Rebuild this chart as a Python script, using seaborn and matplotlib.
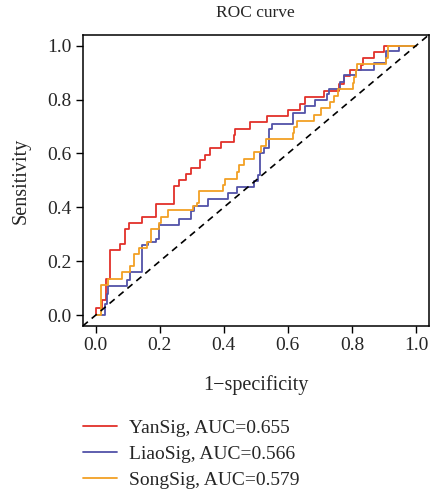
import numpy as np
import pandas as pd
import matplotlib
matplotlib.use('Agg')
import matplotlib.pyplot as plt
import seaborn as sns

# ROC step points (1-specificity, sensitivity)
yan_fpr = [0.0, 0.0, 0.021, 0.033, 0.046, 0.076, 0.091, 0.103, 0.145, 0.190, 0.244,
           0.259, 0.283, 0.298, 0.327, 0.343, 0.357, 0.392, 0.431, 0.436, 0.482,
           0.536, 0.601, 0.639, 0.654, 0.712, 0.760, 0.776, 0.794, 0.829, 0.835,
           0.869, 0.900, 1.0]
yan_tpr = [0.0, 0.026, 0.056, 0.133, 0.242, 0.263, 0.319, 0.343, 0.366, 0.411, 0.479,
           0.501, 0.525, 0.547, 0.575, 0.596, 0.621, 0.643, 0.670, 0.691, 0.716,
           0.738, 0.761, 0.784, 0.810, 0.833, 0.859, 0.886, 0.911, 0.930, 0.954,
           0.975, 1.0, 1.0]

liao_fpr = [0.0, 0.030, 0.036, 0.040, 0.098, 0.107, 0.144, 0.164, 0.190, 0.199, 0.259,
            0.298, 0.307, 0.350, 0.412, 0.442, 0.495, 0.508, 0.512, 0.526, 0.540,
            0.552, 0.615, 0.654, 0.686, 0.722, 0.728, 0.762, 0.774, 0.812, 0.869,
            0.907, 0.947, 1.0]
liao_tpr = [0.0, 0.041, 0.078, 0.110, 0.130, 0.160, 0.259, 0.270, 0.283, 0.333, 0.358,
            0.385, 0.407, 0.431, 0.452, 0.474, 0.499, 0.520, 0.600, 0.621, 0.689,
            0.709, 0.752, 0.776, 0.797, 0.820, 0.841, 0.865, 0.891, 0.911, 0.934,
            0.979, 1.0, 1.0]

song_fpr = [0.0, 0.018, 0.040, 0.083, 0.107, 0.121, 0.137, 0.162, 0.173, 0.199, 0.205,
            0.225, 0.305, 0.315, 0.322, 0.399, 0.405, 0.440, 0.447, 0.464, 0.495,
            0.516, 0.533, 0.615, 0.620, 0.628, 0.682, 0.703, 0.730, 0.743, 0.758,
            0.802, 0.808, 0.813, 0.817, 0.906, 0.914, 1.0]
song_tpr = [0.0, 0.114, 0.136, 0.160, 0.183, 0.228, 0.251, 0.273, 0.319, 0.343, 0.366,
            0.389, 0.405, 0.415, 0.460, 0.484, 0.507, 0.532, 0.557, 0.581, 0.605,
            0.628, 0.652, 0.675, 0.697, 0.721, 0.743, 0.767, 0.791, 0.813, 0.838,
            0.862, 0.884, 0.909, 0.932, 0.954, 1.0, 1.0]

labels = ['YanSig, AUC=0.655', 'LiaoSig, AUC=0.566', 'SongSig, AUC=0.579']
colors = ['#E2302A', '#5252A8', '#F2A024']
ticks = [0.0, 0.2, 0.4, 0.6, 0.8, 1.0]

sns.set_theme(style='white')
plt.rcParams['font.family'] = ['Liberation Serif', 'DejaVu Serif']
plt.rcParams['axes.unicode_minus'] = True

fig = plt.figure(figsize=(4.31, 4.91), dpi=100)
ax = fig.add_axes([0.192, 0.336, 0.803, 0.593])

curves = [(yan_fpr, yan_tpr), (liao_fpr, liao_tpr), (song_fpr, song_tpr)]
for (fpr, tpr), lab, col in zip(curves, labels, colors):
    df = pd.DataFrame({'fpr': fpr, 'tpr': tpr})
    sns.lineplot(data=df, x='fpr', y='tpr', sort=False, estimator=None, ax=ax,
                 color=col, linewidth=1.3, drawstyle='steps-post', label=lab)

# reference diagonal
ax.axline((0, 0), (1, 1), color='black', linestyle=(0, (4, 3)), linewidth=1.2)

ax.set_xlim(-0.04, 1.04)
ax.set_ylim(-0.04, 1.04)
ax.set_xticks(ticks)
ax.set_yticks(ticks)
ax.set_xticklabels([f'{t:.1f}' for t in ticks])
ax.set_yticklabels([f'{t:.1f}' for t in ticks])
ax.tick_params(axis='both', which='both', direction='out', length=5, width=1,
               color='black', labelsize=14, pad=3, left=True, bottom=True)
for sp in ax.spines.values():
    sp.set_color('black')
    sp.set_linewidth(1.1)

ax.set_title('ROC curve', fontsize=12.5, pad=13)
ax.set_xlabel('1\u2212specificity', fontsize=14.5, labelpad=15)
ax.set_ylabel('Sensitivity', fontsize=14.5, labelpad=12)

ax.get_legend().remove()
handles, labs = ax.get_legend_handles_labels()
fig.legend(handles, labs, loc='upper left', bbox_to_anchor=(0.175, 0.162),
           frameon=False, fontsize=14, handlelength=1.75, handletextpad=0.6,
           labelspacing=0.43, borderaxespad=0)

fig.savefig('out.png', dpi=100)
